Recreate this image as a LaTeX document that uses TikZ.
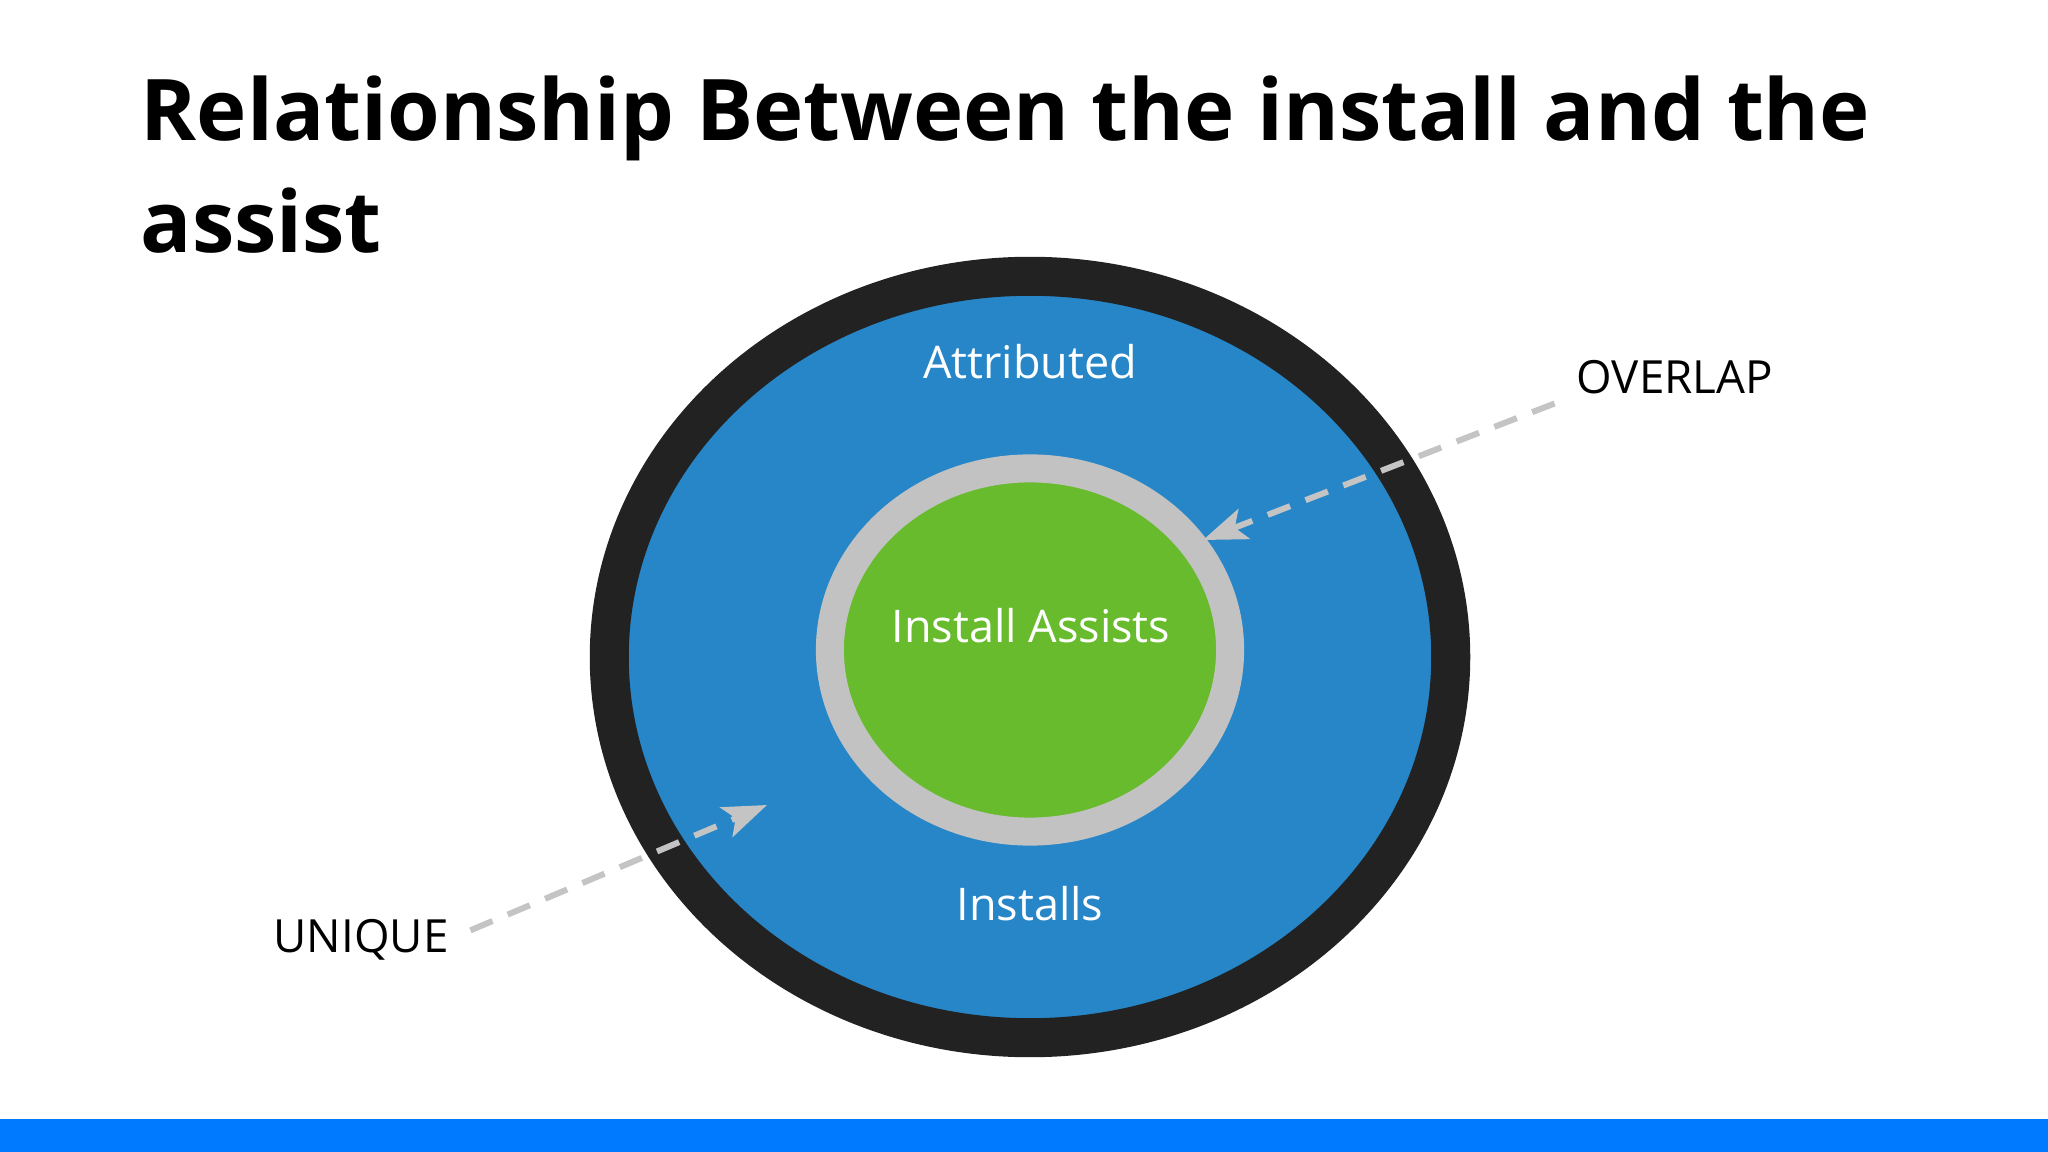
\documentclass[tikz,border=0pt]{standalone}
\usepackage{fontspec}
\setmainfont{Open Sans}
\usetikzlibrary{shapes.geometric,arrows.meta}
\definecolor{ringblue}{HTML}{2686C7}
\definecolor{ringdark}{HTML}{222222}
\definecolor{ringgray}{HTML}{C2C2C2}
\definecolor{assistgreen}{HTML}{67BB2D}
\definecolor{barblue}{HTML}{007BFF}
\definecolor{dashgray}{HTML}{C4C4C4}

\begin{document}
\begin{tikzpicture}[x=0.01cm,y=-0.01cm,
  title text/.style={font=\fontsize{24.2}{29}\selectfont\bfseries,anchor=base west,inner sep=0},
  ring text/.style={font=\fontsize{12.8}{15}\selectfont,text=white,inner sep=0},
  side text/.style={font=\fontsize{13}{16}\selectfont,anchor=base west,inner sep=0},
  dash arrow/.style={draw=dashgray,line width=0.06cm,dash pattern=on 0.24cm off 0.165cm,
    shorten <=0.23cm,-{Stealth[length=0.44cm,width=0.32cm,inset=0.1cm]}}]
\fill[white] (0,0) rectangle (2048,1152);
\fill[barblue] (0,1119) rectangle (2048,1152);

\node[title text] (title) at (140,141) {Relationship Between the install and the};
\node[title text] (title2) at (140,253) {assist};

\node[ellipse,draw=ringdark,line width=0.39cm,fill=ringblue,minimum width=8.41cm,minimum height=7.61cm,inner sep=0] (installs) at (1030,657) {};
\node[ellipse,draw=ringgray,line width=0.28cm,fill=assistgreen,minimum width=4.0cm,minimum height=3.63cm,inner sep=0] (assists) at (1030,650) {};

\node[ring text] (attributed) at (1030,362) {Attributed};
\node[ring text] (assisttext) at (1031,626) {Install Assists};
\node[ring text] (installtext) at (1030,904) {Installs};

\node[side text] (overlap) at (1576,394) {OVERLAP};
\node[side text] (unique) at (273,952) {UNIQUE};

\coordinate (ovtip) at (1203,540);
\coordinate (untip) at (767,805);
\path[dash arrow] (overlap.south west) -- (ovtip);
\path[dash arrow] (unique.east) -- (untip);
\end{tikzpicture}
\end{document}
